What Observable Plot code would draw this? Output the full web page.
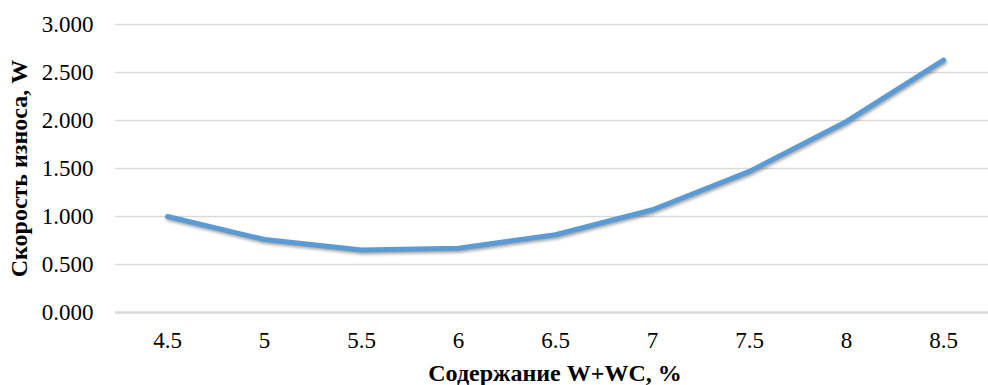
<!DOCTYPE html>
<html>
<head>
<meta charset="utf-8">
<script src="https://cdn.jsdelivr.net/npm/d3@7"></script>
<script src="https://cdn.jsdelivr.net/npm/@observablehq/plot@0.6"></script>
<style>
  html, body { margin: 0; padding: 0; background: #fff; }
  g[aria-label="line"] path { filter: drop-shadow(1px 2px 1.5px rgba(0,0,0,0.35)); }
</style>
</head>
<body>
<div id="chart"></div>
<script>
const categories = ["4.5", "5", "5.5", "6", "6.5", "7", "7.5", "8", "8.5"];
const wearRate = [1.00, 0.76, 0.65, 0.67, 0.81, 1.07, 1.47, 1.99, 2.63];
const yTicks = [0, 0.5, 1.0, 1.5, 2.0, 2.5, 3.0];
const xTitle = "Содержание W+WC, %";
const yTitle = "Скорость износа, W";

const data = categories.map((c, i) => ({c, v: wearRate[i]}));
const serif = "Liberation Serif";
const fmt = d3.format(".3f");

const chart = Plot.plot({
  width: 988,
  height: 385,
  marginTop: 24,
  marginBottom: 73,
  marginLeft: 115,
  marginRight: 0,
  style: {fontFamily: serif, fontSize: "23px", color: "#000", background: "#fff"},
  x: {type: "point", domain: categories, range: [114, 995], padding: 0.5, axis: null},
  y: {domain: [0, 3], range: [312, 24], axis: null},
  marks: [
    Plot.ruleY(yTicks.filter(d => d > 0), {stroke: "#d9d9d9", strokeWidth: 1.5}),
    Plot.ruleY([0], {stroke: "#d9d9d9", strokeWidth: 2.5}),
    Plot.text(yTicks, {y: d => d, text: d => fmt(d), frameAnchor: "left", dx: -22, textAnchor: "end", lineAnchor: "middle", fontSize: 23, fontFamily: serif, fill: "#000"}),
    Plot.text(categories, {x: d => d, text: d => d, frameAnchor: "bottom", dy: 28, textAnchor: "middle", lineAnchor: "middle", fontSize: 23, fontFamily: serif, fill: "#000"}),
    Plot.line(data, {x: "c", y: "v", stroke: "#5B9BD5", strokeWidth: 5, strokeLinecap: "round", strokeLinejoin: "round"}),
    Plot.text([xTitle], {frameAnchor: "bottom", dx: 3, dy: 61, lineAnchor: "middle", textAnchor: "middle", fontWeight: "bold", fontSize: 24, fontFamily: serif, fill: "#000"}),
    Plot.text([yTitle], {frameAnchor: "left", dx: -96, rotate: -90, lineAnchor: "middle", textAnchor: "middle", fontWeight: "bold", fontSize: 24, fontFamily: serif, fill: "#000"})
  ]
});
document.getElementById("chart").appendChild(chart);
</script>
</body>
</html>
